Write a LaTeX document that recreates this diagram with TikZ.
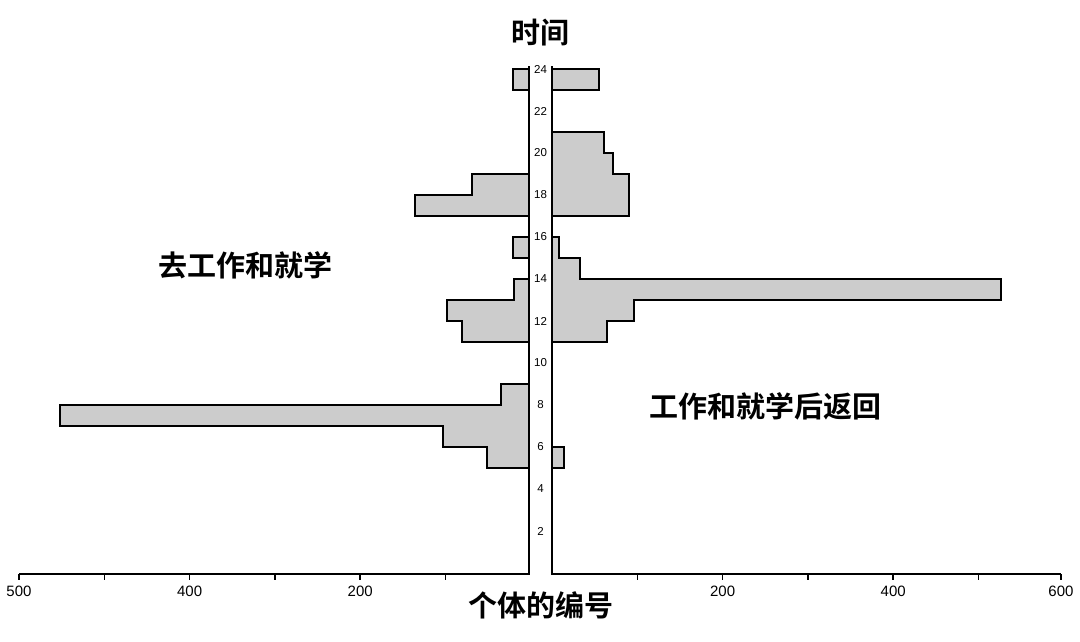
\documentclass[tikz,border=0pt]{standalone}
\usepackage{fontspec}
\setmainfont{Liberation Sans}
\newfontfamily\cjk{Noto Sans CJK SC Bold}
\begin{document}
\begin{tikzpicture}[x=1pt,y=-1pt,
  bar/.style={draw=black,line width=1.8pt,fill=black!20,line join=miter},
  ax/.style={line width=1.6pt},
  hr/.style={font=\fontsize{11.5}{11.5}\selectfont,fill=white,inner sep=0.5pt},
  tl/.style={font=\fontsize{15}{15}\selectfont,anchor=north},
  big/.style={font=\cjk\fontsize{29}{29}\selectfont}]
\useasboundingbox (0,0) rectangle (1080,641);
% bars (y = 573 - 21h)
\draw[bar] (529,69) rectangle (513,90);
\draw[bar] (552,69) rectangle (599,90);
\draw[bar] (552,132) -- (604,132) -- (604,153) -- (613,153) -- (613,174) -- (629,174) -- (629,216) -- (552,216) -- cycle;
\draw[bar] (529,174) -- (472,174) -- (472,195) -- (415,195) -- (415,216) -- (529,216) -- cycle;
\draw[bar] (529,237) rectangle (513,258);
\draw[bar] (552,237) -- (559,237) -- (559,258) -- (580,258) -- (580,279) -- (1001,279) -- (1001,300) -- (634,300) -- (634,321) -- (607,321) -- (607,342) -- (552,342) -- cycle;
\draw[bar] (529,279) -- (514,279) -- (514,300) -- (447,300) -- (447,321) -- (462,321) -- (462,342) -- (529,342) -- cycle;
\draw[bar] (529,384) -- (501,384) -- (501,405) -- (60,405) -- (60,426) -- (443,426) -- (443,447) -- (487,447) -- (487,468) -- (529,468) -- cycle;
\draw[bar] (552,447) rectangle (564,468);
% axes
\draw[ax] (529,66) -- (529,574) -- (19,574);
\draw[ax] (552,66) -- (552,574) -- (1061,574);
\foreach \x in {19,104.3,189.6,274.9,360.2,445.5} \draw[ax] (\x,574) -- (\x,580);
\foreach \x in {637.3,722.6,807.9,893.2,978.5,1061} \draw[ax] (\x,574) -- (\x,580);
\foreach \h in {2,4,...,24} \node[hr] (h\h) at (540.5,573-21*\h) {\h};
\node[tl] (l500) at (19,582) {500};
\node[tl] (l400) at (189.6,582) {400};
\node[tl] (l200) at (360.2,582) {200};
\node[tl] (r200) at (722.6,582) {200};
\node[tl] (r400) at (893.2,582) {400};
\node[tl] (r600) at (1061,582) {600};
% titles
\node[big] (t) at (540,33) {时间};
\node[big] (a) at (245,265) {去工作和就学};
\node[big] (b) at (765,406) {工作和就学后返回};
\node[big] (c) at (541,605) {个体的编号};
\end{tikzpicture}
\end{document}
